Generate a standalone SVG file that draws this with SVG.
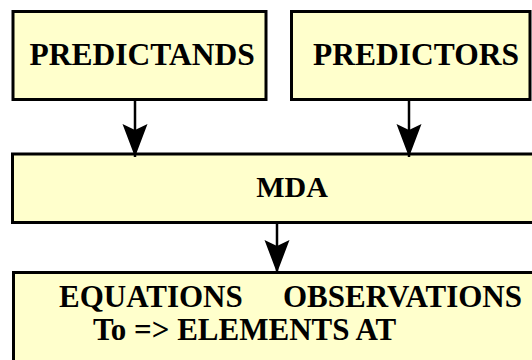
<svg xmlns="http://www.w3.org/2000/svg" width="532" height="360" viewBox="0 0 532 360">
<style>
.box{fill:#FFFFCC;stroke:#000;stroke-width:3}
.t{font-family:'Liberation Serif','Times New Roman',serif;font-weight:bold;fill:#000}
.c{stroke:#000;stroke-width:2.5;fill:none}
</style>
<defs>
<marker id="ah" markerUnits="userSpaceOnUse" markerWidth="34" markerHeight="26" viewBox="0 0 34 26" refX="33" refY="13" orient="auto">
<path d="M0,0.5 L6,13 L0,25.5 L33,13 Z" fill="#000"/>
</marker>
</defs>
<rect width="532" height="360" fill="#fff"/>
<g id="predictands">
<rect class="box" x="13" y="11.5" width="253" height="88"/>
<text class="t" x="29.5" y="65" font-size="31.5">PREDICTANDS</text>
</g>
<g id="predictors">
<rect class="box" x="291.5" y="11.5" width="238.5" height="88"/>
<text class="t" x="313" y="64.5" font-size="31.5">PREDICTORS</text>
</g>
<g id="mda">
<rect class="box" x="12.5" y="154" width="540" height="68.5"/>
<text class="t" x="292" y="197" font-size="30" text-anchor="middle">MDA</text>
</g>
<g id="equations">
<rect class="box" x="13.5" y="272.5" width="540" height="100"/>
<text class="t" font-size="31" y="307"><tspan x="59">EQUATIONS</tspan><tspan x="283">OBSERVATIONS</tspan></text>
<text class="t" x="93" y="340" font-size="31">To =&gt; ELEMENTS AT</text>
</g>
<g id="connectors">
<line class="c" x1="135" y1="100" x2="135" y2="157" marker-end="url(#ah)"/>
<line class="c" x1="409" y1="100" x2="409" y2="157" marker-end="url(#ah)"/>
<line class="c" x1="277" y1="222" x2="277" y2="273" marker-end="url(#ah)"/>
</g>
</svg>
